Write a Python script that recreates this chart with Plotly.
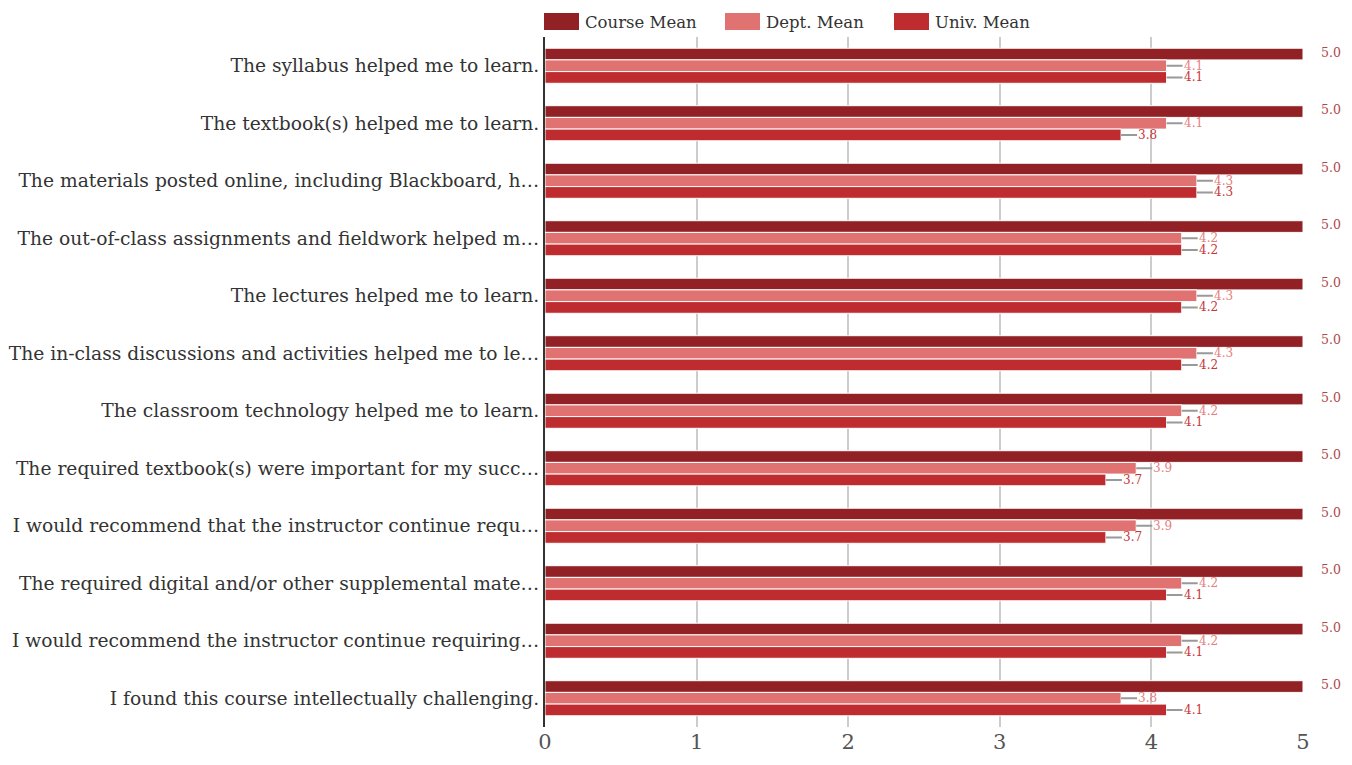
import plotly.graph_objects as go

categories = [
    "The syllabus helped me to learn.",
    "The textbook(s) helped me to learn.",
    "The materials posted online, including Blackboard, h…",
    "The out-of-class assignments and fieldwork helped m…",
    "The lectures helped me to learn.",
    "The in-class discussions and activities helped me to le…",
    "The classroom technology helped me to learn.",
    "The required textbook(s) were important for my succ…",
    "I would recommend that the instructor continue requ…",
    "The required digital and/or other supplemental mate…",
    "I would recommend the instructor continue requiring…",
    "I found this course intellectually challenging.",
]
course_mean = [5.0, 5.0, 5.0, 5.0, 5.0, 5.0, 5.0, 5.0, 5.0, 5.0, 5.0, 5.0]
dept_mean = [4.1, 4.1, 4.3, 4.2, 4.3, 4.3, 4.2, 3.9, 3.9, 4.2, 4.2, 3.8]
univ_mean = [4.1, 3.8, 4.3, 4.2, 4.2, 4.2, 4.1, 3.7, 3.7, 4.1, 4.1, 4.1]
x_ticks = [0, 1, 2, 3, 4, 5]

series = [
    ("Course Mean", course_mean, "#922125", "#b0474a"),
    ("Dept. Mean", dept_mean, "#e07272", "#e58080"),
    ("Univ. Mean", univ_mean, "#bf2c2f", "#c9363a"),
]

FONT = "DejaVu Serif"
# page body has an 8px margin; figure sized to fill the rest of the window
W, H = 1344, 757
ML, MR, MT, MB = 537, 49, 29, 38
plot_h = H - MT - MB
bargap = 0.39
slot_px = plot_h / len(categories) * (1 - bargap) / len(series)

fig = go.Figure()
for name, vals, color, _ in series:
    fig.add_trace(go.Bar(
        name=name, y=categories, x=vals, orientation="h",
        marker=dict(color=color, line=dict(color="white", width=1)),
        showlegend=False, hoverinfo="x+name",
    ))

annotations = []
shapes = []
for si, (name, vals, color, tcolor) in enumerate(series):
    yshift = -(si - 1) * slot_px
    for ci, v in enumerate(vals):
        label = f"{v:.1f}"
        if v >= 5.0:
            annotations.append(dict(
                x=v, y=ci, xref="x", yref="y", text=label, showarrow=False,
                xanchor="left", yanchor="middle", xshift=17, yshift=yshift + 2,
                borderpad=0,
                font=dict(family=FONT, size=12.5, color=tcolor),
            ))
        else:
            annotations.append(dict(
                x=v, y=ci, xref="x", yref="y", text=label, showarrow=True,
                ax=16, ay=0, arrowhead=0, arrowwidth=2, arrowcolor="#999999",
                standoff=0, xanchor="left", yanchor="middle", yshift=yshift,
                borderpad=0,
                font=dict(family=FONT, size=12, color=tcolor),
            ))
    # custom legend
    lx = [0, 181, 350][si]
    shapes.append(dict(
        type="rect", xref="paper", yref="paper", xsizemode="pixel", ysizemode="pixel",
        xanchor=0, yanchor=1, x0=lx - 1, x1=lx + 34, y0=7, y1=24,
        fillcolor=color, line=dict(width=0),
    ))
    annotations.append(dict(
        xref="paper", yref="paper", x=0, y=1, xshift=lx + 38, yshift=15,
        text=name, showarrow=False, xanchor="left", yanchor="middle",
        font=dict(family=FONT, size=16.5, color="#333333"),
    ))

fig.update_layout(
    width=W, height=H,
    margin=dict(l=ML, r=MR, t=MT, b=MB, pad=0),
    barmode="group", bargap=bargap, bargroupgap=0,
    plot_bgcolor="white", paper_bgcolor="white",
    font=dict(family=FONT, color="#333333"),
    annotations=annotations, shapes=shapes,
    xaxis=dict(
        range=[0, 5], tickvals=x_ticks, showgrid=True, gridcolor="#cccccc", gridwidth=2,
        zeroline=False, showline=False, ticks="", automargin=False,
        tickfont=dict(family=FONT, size=21, color="#555555"),
    ),
    yaxis=dict(
        autorange="reversed", showline=True, linecolor="#333333", linewidth=2,
        ticks="", showgrid=False, ticklabelstandoff=0, automargin=False,
        tickfont=dict(family=FONT, size=18.7, color="#333333"),
    ),
)

fig.write_html("out.html")
